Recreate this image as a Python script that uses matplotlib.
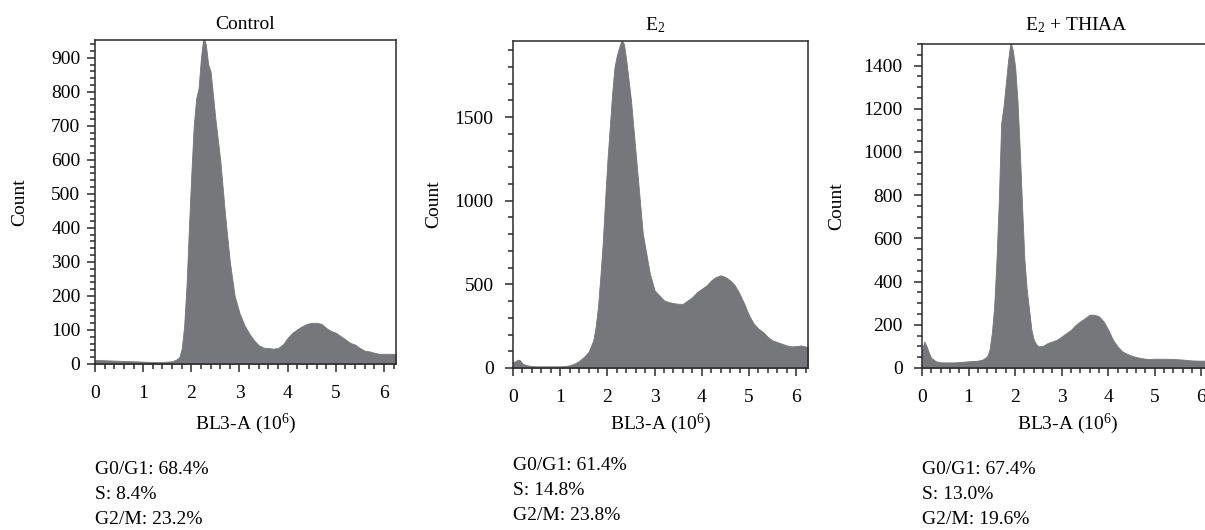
import matplotlib
matplotlib.use("Agg")
import matplotlib.pyplot as plt
from matplotlib.ticker import MultipleLocator

plt.rcParams['font.family'] = ['Liberation Serif', 'DejaVu Serif']
plt.rcParams['mathtext.fontset'] = 'custom'
plt.rcParams['mathtext.rm'] = 'Liberation Serif'
plt.rcParams['mathtext.it'] = 'Liberation Serif:italic'

# ---------------- data ----------------
titles = ['Control', r'E$_{\mathrm{2}}$', r'E$_{\mathrm{2}}$ + THIAA']

ctrl_x = [0, 0.2, 0.4, 0.6, 0.8, 1.0, 1.2, 1.4, 1.6, 1.7, 1.75, 1.8, 1.85, 1.9, 1.95,
          2.0, 2.05, 2.1, 2.15, 2.2, 2.25, 2.3, 2.35, 2.4, 2.45, 2.5, 2.6, 2.7, 2.8,
          2.9, 3.0, 3.1, 3.2, 3.3, 3.4, 3.5, 3.6, 3.7, 3.8, 3.9, 4.0, 4.1, 4.2, 4.3,
          4.4, 4.5, 4.6, 4.7, 4.8, 4.9, 5.0, 5.1, 5.2, 5.3, 5.4, 5.5, 5.6, 5.7, 5.8,
          5.9, 6.0, 6.1, 6.25]
ctrl_y = [12, 11, 10, 9, 8, 7, 6, 6, 8, 14, 20, 45, 110, 230, 400,
          560, 700, 780, 810, 900, 960, 940, 880, 860, 790, 720, 600, 440, 300,
          200, 150, 115, 90, 70, 55, 48, 47, 45, 47, 57, 77, 92, 102, 111,
          118, 121, 121, 118, 106, 97, 92, 82, 72, 62, 57, 47, 39, 37, 33,
          30, 30, 30, 30]

e2_x = [0, 0.05, 0.1, 0.15, 0.2, 0.3, 0.4, 0.5, 0.7, 1.0, 1.1, 1.2, 1.3, 1.4, 1.5,
        1.6, 1.7, 1.75, 1.8, 1.85, 1.9, 1.95, 2.0, 2.05, 2.1, 2.15, 2.2, 2.25, 2.3,
        2.35, 2.4, 2.45, 2.5, 2.55, 2.6, 2.65, 2.7, 2.75, 2.8, 2.85, 2.9, 3.0, 3.1,
        3.2, 3.3, 3.4, 3.5, 3.6, 3.7, 3.8, 3.9, 4.0, 4.1, 4.2, 4.3, 4.4, 4.5, 4.6,
        4.7, 4.8, 4.9, 5.0, 5.1, 5.2, 5.3, 5.4, 5.5, 5.6, 5.7, 5.8, 5.9, 6.0, 6.1, 6.25]
e2_y = [36, 40, 50, 46, 26, 16, 12, 10, 10, 10, 12, 16, 26, 42, 66,
        96, 165, 245, 365, 544, 743, 1002, 1241, 1440, 1640, 1799, 1869, 1918, 1960,
        1938, 1839, 1719, 1600, 1440, 1281, 1122, 962, 803, 723, 643, 564, 464, 434,
        404, 394, 388, 384, 384, 404, 424, 454, 474, 494, 524, 544, 554, 544, 524,
        494, 444, 384, 315, 265, 235, 215, 185, 165, 155, 145, 135, 129, 131, 135, 125]

thi_x = [0, 0.05, 0.1, 0.15, 0.2, 0.3, 0.4, 0.7, 1.0, 1.2, 1.3, 1.4, 1.45, 1.5, 1.55,
         1.6, 1.65, 1.7, 1.75, 1.8, 1.85, 1.9, 1.95, 2.0, 2.05, 2.1, 2.15, 2.2, 2.25,
         2.3, 2.35, 2.4, 2.45, 2.5, 2.6, 2.7, 2.8, 2.9, 3.0, 3.1, 3.2, 3.3, 3.4, 3.5,
         3.6, 3.7, 3.8, 3.9, 4.0, 4.1, 4.2, 4.3, 4.4, 4.5, 4.6, 4.7, 4.8, 4.9, 5.0,
         5.2, 5.4, 5.6, 5.8, 6.0, 6.25]
thi_y = [85, 123, 100, 69, 46, 31, 26, 26, 31, 34, 39, 54, 85, 162, 285,
         501, 779, 1133, 1210, 1318, 1426, 1510, 1472, 1395, 1241, 1010, 748, 501, 362,
         270, 177, 131, 111, 100, 103, 116, 123, 131, 146, 162, 177, 200, 216, 231,
         247, 247, 239, 216, 177, 131, 100, 77, 66, 57, 51, 46, 43, 42, 43,
         43, 42, 39, 35, 34, 34]

stats = [["G0/G1: 68.4%", "S: 8.4%", "G2/M: 23.2%"],
         ["G0/G1: 61.4%", "S: 14.8%", "G2/M: 23.8%"],
         ["G0/G1: 67.4%", "S: 13.0%", "G2/M: 19.6%"]]

xs = [ctrl_x, e2_x, thi_x]
ys = [ctrl_y, e2_y, thi_y]
ymax = [952, 1955, 1500]
ymajor = [100, 500, 200]
yminor = [20, 100, 50]
xmax = 6.25

# ---------------- layout (pixels) ----------------
W, H = 1205, 530
DPI = 100
boxes = [(95, 396, 40, 364), (513, 808, 41, 368), (922, 1213, 44, 368)]
ytick_pad = [4.5, 8, 8]
ylabel_x = [20, 434, 837]
title_x = [245, 655, 1076]
title_pad = [8, 8, 10]
stats_y = [470, 466, 470]

fill_color = '#76777b'
spine_color = '#2a2a2a'
FS = 14

fig = plt.figure(figsize=(W / DPI, H / DPI), dpi=DPI)

for i in range(3):
    l, r, t, b = boxes[i]
    ax = fig.add_axes([l / W, 1 - b / H, (r - l) / W, (b - t) / H])
    ax.fill_between(xs[i], ys[i], 0, color=fill_color, linewidth=0.6,
                    edgecolor=fill_color)
    ax.set_xlim(0, xmax)
    ax.set_ylim(0, ymax[i])
    ax.xaxis.set_major_locator(MultipleLocator(1))
    ax.xaxis.set_minor_locator(MultipleLocator(0.2))
    ax.yaxis.set_major_locator(MultipleLocator(ymajor[i]))
    ax.yaxis.set_minor_locator(MultipleLocator(yminor[i]))
    for s in ax.spines.values():
        s.set_color(spine_color)
        s.set_linewidth(1.1)
    ax.tick_params(axis='both', which='both', direction='out', color=spine_color,
                   width=1.1, labelsize=FS)
    ax.tick_params(axis='x', which='major', length=6, pad=9)
    ax.tick_params(axis='x', which='minor', length=3.5)
    ax.tick_params(axis='y', which='major', length=6, pad=ytick_pad[i])
    ax.tick_params(axis='y', which='minor', length=3.5)

    ax.set_title(titles[i], fontsize=FS, pad=title_pad[i],
                 x=(title_x[i] - l) / (r - l))

    ax.set_ylabel('Count', fontsize=FS, va='center')
    ax.yaxis.set_label_coords((ylabel_x[i] - l) / (r - l), 0.5)

    ax.set_xlabel(r'BL3-A (10$^{\mathrm{6}}$)', fontsize=FS, va='top')
    ax.xaxis.set_label_coords(0.5, -(412 - b) / (b - t))

    for k, line in enumerate(stats[i]):
        fig.text(l / W, 1 - (stats_y[i] + 24.5 * k) / H, line, fontsize=FS,
                 ha='left', va='center')

fig.savefig('out.png', dpi=DPI)
